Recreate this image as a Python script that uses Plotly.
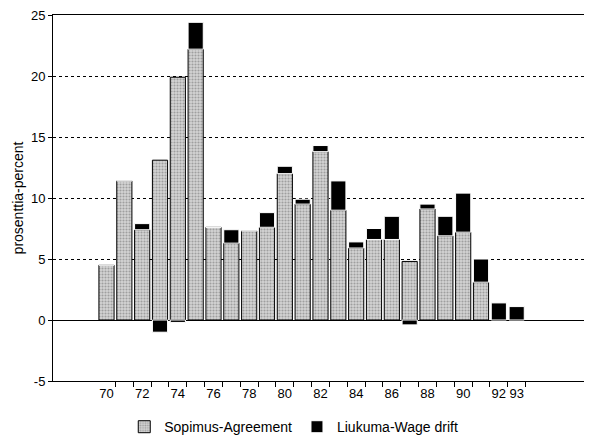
import plotly.graph_objects as go

# years 1970-1993 (two-digit labels)
years = list(range(70, 94))

# Sopimus-Agreement, percent
agreement = [4.5, 11.4, 7.4, 13.1, 19.9, 22.2, 7.6, 6.3, 7.3, 7.6, 12.0, 9.5,
             13.8, 9.0, 5.9, 6.6, 6.6, 4.8, 9.1, 6.9, 7.2, 3.1, None, None]

# Liukuma-Wage drift, percent
drift = [0.0, 0.0, 0.5, -1.0, -0.2, 2.2, 0.0, 1.1, 0.0, 1.2, 0.6, 0.4,
         0.5, 2.4, 0.5, 0.9, 1.9, -0.4, 0.4, 1.6, 3.2, 1.9, 1.4, 1.1]

tick_years = [70, 72, 74, 76, 78, 80, 82, 84, 86, 88, 90, 92, 93]
y_ticks = [-5, 0, 5, 10, 15, 20, 25]

fig = go.Figure()

fig.add_trace(go.Bar(
    x=years, y=agreement, name="Sopimus-Agreement",
    marker=dict(color="#d2d2d2",
                line=dict(color="black", width=1),
                pattern=dict(shape=".", fgcolor="#6a6a6a", bgcolor="#d4d4d4",
                             size=3, solidity=0.4)),
))
fig.add_trace(go.Bar(
    x=years, y=drift, name="Liukuma-Wage drift",
    marker=dict(color="black", line=dict(color="white", width=1)),
))

# the page body adds an 8px offset; figure is sized so the plot lands where
# the original has it (legend bottom may run past the window, that is fine)
fig.update_layout(
    width=584, height=440,
    barmode="relative",
    bargap=0.15,
    plot_bgcolor="white",
    paper_bgcolor="white",
    font=dict(family="Liberation Sans, Arial, sans-serif", size=12, color="black"),
    margin=dict(l=45, r=4, t=7, b=67),
    legend=dict(orientation="h", x=0.45, xanchor="center", y=-0.126,
                yanchor="middle", font=dict(size=14), traceorder="normal"),
)

fig.update_xaxes(
    range=[67, 97], automargin=False,
    tickmode="array", tickvals=tick_years,
    ticktext=[str(t) for t in tick_years],
    ticks="", showgrid=False, zeroline=False,
    showline=True, linecolor="black", linewidth=1, mirror=True,
    minor=dict(tickmode="array", tickvals=[y + 0.5 for y in range(70, 94)],
               ticks="outside", ticklen=5, tickcolor="black", showgrid=False),
    tickfont=dict(size=13),
)

fig.update_yaxes(
    range=[-5, 25], automargin=False,
    tickmode="array", tickvals=y_ticks,
    ticktext=[str(t) for t in y_ticks],
    ticks="outside", ticklen=4, tickcolor="black",
    ticklabeloverflow="allow",
    showgrid=True, gridcolor="black", griddash="dot", gridwidth=1,
    zeroline=True, zerolinecolor="black", zerolinewidth=1,
    showline=True, linecolor="black", linewidth=1, mirror=True,
    title=dict(text="prosenttia-percent", font=dict(size=14), standoff=4),
    tickfont=dict(size=13),
)

fig.write_html("out.html")
